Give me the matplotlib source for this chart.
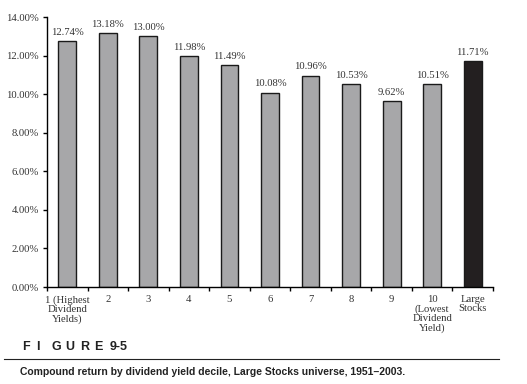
import matplotlib
matplotlib.use("Agg")
import matplotlib.pyplot as plt
from matplotlib.ticker import FixedLocator, FuncFormatter

categories = ["1 (Highest\nDividend\nYields)", "2", "3", "4", "5", "6", "7", "8", "9",
              "10\n(Lowest\nDividend\nYield)", "Large\nStocks"]
returns = [12.74, 13.18, 13.00, 11.98, 11.49, 10.08, 10.96, 10.53, 9.62, 10.51, 11.71]
bar_colors = ["#a7a7a9"] * 10 + ["#231f20"]
yticks = [0, 2, 4, 6, 8, 10, 12, 14]

plt.rcParams["font.family"] = ["Liberation Serif", "DejaVu Serif"]

fig = plt.figure(figsize=(5.27, 3.84), dpi=100)
ax = fig.add_axes([0.0892, 0.2526, 0.8463, 0.7031])

x = range(len(returns))
ax.bar(x, returns, width=0.44, color=bar_colors, edgecolor="#1a1a1a", linewidth=1.0)
for xi, v in zip(x, returns):
    ax.annotate(f"{v:.2f}%", (xi, v), xytext=(0, 3), textcoords="offset points",
                ha="center", va="bottom", fontsize=7.7, color="#333333")

ax.set_xlim(-0.5, len(returns) - 0.5)
ax.set_ylim(0, 14)
ax.set_yticks(yticks)
ax.yaxis.set_major_formatter(FuncFormatter(lambda v, _: f"{v:.2f}%"))

# category labels centred under bars, ticks at the boundaries
ax.set_xticks(list(x))
ax.set_xticklabels(categories, fontsize=7.7, linespacing=1.02, color="#333333")
ax.tick_params(axis="x", which="major", length=0, pad=6)
ax.xaxis.set_minor_locator(FixedLocator([i - 0.5 for i in range(len(returns) + 1)]))
ax.tick_params(axis="x", which="minor", length=3, width=1, direction="out")
ax.tick_params(axis="y", length=3, width=1, direction="out", labelsize=7.7,
               labelcolor="#333333", pad=3)

for s in ["top", "right"]:
    ax.spines[s].set_visible(False)
for s in ["left", "bottom"]:
    ax.spines[s].set_linewidth(1.0)

# figure caption
cap_font = ["Liberation Sans", "DejaVu Sans"]
for i, ch in enumerate("FIGURE"):
    fig.text((22 + i * 14.5) / 527, 1 - 347 / 384, ch, family=cap_font,
             fontweight="bold", fontsize=9, va="center", ha="left", color="#222222")
fig.text(110 / 527, 1 - 347 / 384, "9-5", family=cap_font,
         fontweight="bold", fontsize=9, va="center", ha="left", color="#222222")
fig.add_artist(plt.Line2D([4 / 527, 499 / 527], [1 - 359 / 384, 1 - 359 / 384],
                          color="#222222", linewidth=0.8))
fig.text(20 / 527, 1 - 372 / 384,
         "Compound return by dividend yield decile, Large Stocks universe, 1951\u20132003.",
         family=cap_font, fontweight="bold", fontsize=7.5, va="center", ha="left",
         color="#222222")

fig.savefig("out.png", dpi=100)
